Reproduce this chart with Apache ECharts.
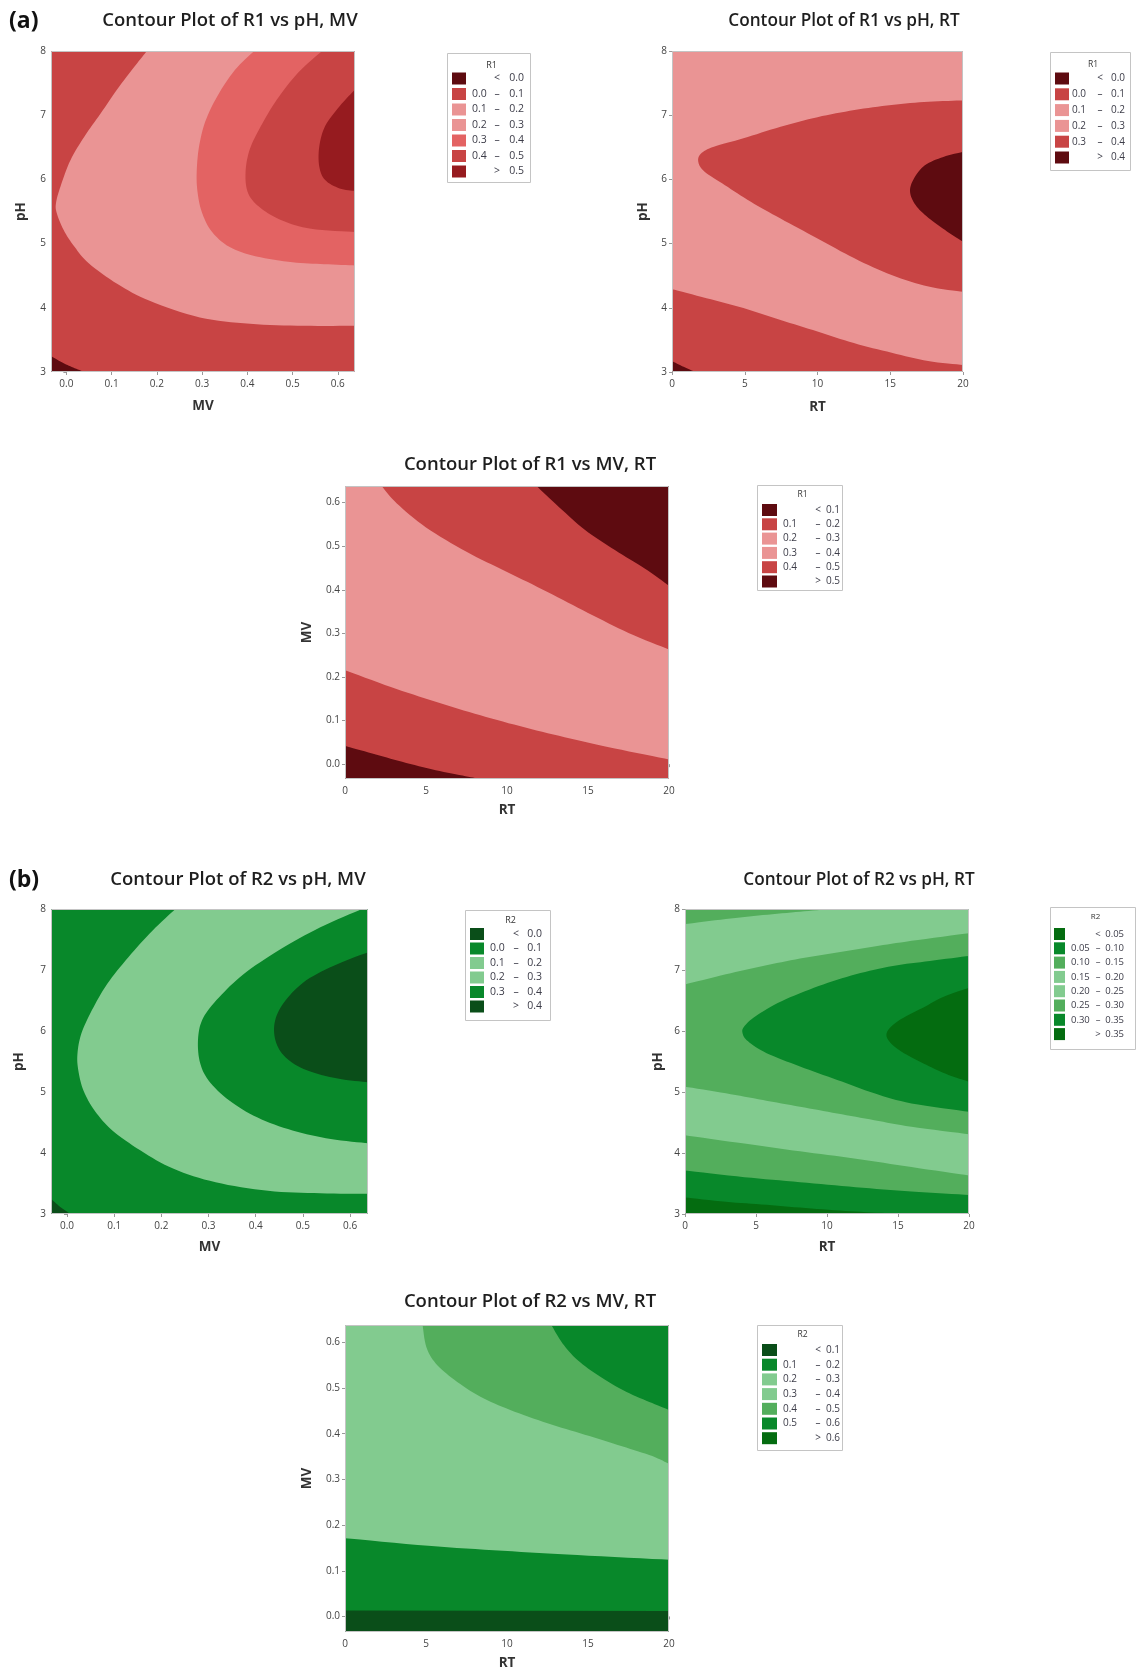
<!DOCTYPE html>
<html><head><meta charset="utf-8">
<script src="https://cdn.jsdelivr.net/npm/echarts@6.0.0/dist/echarts.min.js"></script>
<style>html,body{margin:0;padding:0;background:#fff}#c{width:1137px;height:1672px}</style>
</head><body><div id="c"></div>
<script>
// ---------- axis ranges & ticks ----------
const MV_RANGE = [-0.034, 0.638];
const PH_RANGE = [3, 8];
const RT_RANGE = [0, 20];
const MV_TICKS = [0.0, 0.1, 0.2, 0.3, 0.4, 0.5, 0.6];
const PH_TICKS = [3, 4, 5, 6, 7, 8];
const RT_TICKS = [0, 5, 10, 15, 20];

// ---------- legend levels ----------
const A1_LEVELS = [0.0, 0.1, 0.2, 0.3, 0.4, 0.5];
const A2_LEVELS = [0.0, 0.1, 0.2, 0.3, 0.4];
const A3_LEVELS = [0.1, 0.2, 0.3, 0.4, 0.5];
const B1_LEVELS = [0.0, 0.1, 0.2, 0.3, 0.4];
const B2_LEVELS = [0.05, 0.10, 0.15, 0.20, 0.25, 0.30, 0.35];
const B3_LEVELS = [0.1, 0.2, 0.3, 0.4, 0.5, 0.6];

// ---------- contour boundary curves (data coords) ----------
// A1: R1 vs pH (y), MV (x)
const A1_c0 = [[-0.034,3.25],[-0.01,3.15],[0.015,3.07],[0.04,3.0]];
const A1_c1 = [[0.178,8.0],[0.152,7.77],[0.112,7.40],[0.076,7.03],[0.040,6.67],[0.009,6.30],[-0.013,5.89],[-0.023,5.63],[-0.021,5.47],[-0.006,5.21],[0.018,4.95],[0.050,4.69],[0.113,4.37],[0.184,4.11],[0.295,3.85],[0.406,3.75],[0.525,3.72],[0.638,3.72]];
const A1_c3 = [[0.415,8.0],[0.372,7.70],[0.334,7.30],[0.307,6.90],[0.293,6.50],[0.288,6.10],[0.290,5.80],[0.299,5.50],[0.320,5.20],[0.360,4.95],[0.420,4.80],[0.500,4.71],[0.570,4.68],[0.638,4.66]];
const A1_c4 = [[0.565,8.0],[0.512,7.66],[0.465,7.24],[0.430,6.83],[0.405,6.46],[0.396,6.10],[0.402,5.78],[0.430,5.55],[0.477,5.36],[0.541,5.23],[0.638,5.18]];
const A1_c5 = [[0.638,7.40],[0.604,7.14],[0.572,6.83],[0.559,6.51],[0.559,6.20],[0.572,5.99],[0.604,5.86],[0.638,5.82]];
// A2: R1 vs pH (y), RT (x)
const A2_c0 = [[0,3.17],[0.8,3.08],[1.6,3.0]];
const A2_c1 = [[0,4.29],[2.37,4.15],[4.91,3.995],[7.46,3.81],[10.0,3.63],[12.5,3.45],[15.1,3.30],[17.6,3.17],[20,3.11]];
const A2_c3 = [[20,7.23],[17.63,7.21],[15.09,7.16],[12.54,7.08],[10.0,6.97],[7.46,6.82],[4.91,6.64],[2.88,6.51],[1.98,6.40],[1.81,6.27],[2.24,6.12],[3.64,5.91],[5.42,5.65],[7.46,5.39],[10.0,5.08],[12.54,4.77],[15.09,4.51],[17.63,4.33],[20,4.25]];
const A2_c4 = [[20,6.43],[18.65,6.35],[17.38,6.22],[16.62,6.01],[16.36,5.81],[16.74,5.60],[17.63,5.40],[18.9,5.19],[20,5.03]];
// A3: R1 vs MV (y), RT (x)
const A3_c1 = [[0,0.042],[1.68,0.0245],[3.53,0.0054],[5.6,-0.0138],[7.44,-0.0275],[8.36,-0.034]];
const A3_c2 = [[0,0.2156],[2.83,0.177],[5.6,0.143],[8.36,0.112],[11.13,0.084],[13.9,0.059],[16.66,0.036],[20,0.011]];
const A3_c4 = [[2.26,0.638],[3.2,0.598],[5.0,0.543],[7.5,0.487],[10,0.441],[12.5,0.395],[15,0.347],[17.5,0.301],[20,0.263]];
const A3_c5 = [[11.82,0.638],[13.2,0.590],[14.82,0.537],[16.66,0.491],[18.5,0.449],[20,0.409]];
// B1: R2 vs pH (y), MV (x)
const B1_c0 = [[-0.034,3.25],[-0.015,3.12],[0.007,3.0]];
const B1_c1 = [[0.2296,8.0],[0.181,7.645],[0.130,7.21],[0.085,6.77],[0.052,6.33],[0.030,5.95],[0.022,5.62],[0.024,5.35],[0.035,5.02],[0.059,4.69],[0.096,4.37],[0.156,4.04],[0.226,3.74],[0.315,3.52],[0.426,3.38],[0.537,3.34],[0.638,3.33]];
const B1_c3 = [[0.625,8.0],[0.537,7.70],[0.448,7.32],[0.374,6.93],[0.322,6.55],[0.289,6.22],[0.278,5.90],[0.281,5.51],[0.300,5.19],[0.344,4.86],[0.404,4.58],[0.478,4.37],[0.559,4.23],[0.638,4.16]];
const B1_c4 = [[0.638,7.29],[0.574,7.10],[0.507,6.83],[0.463,6.50],[0.441,6.17],[0.442,5.84],[0.463,5.57],[0.507,5.36],[0.574,5.22],[0.638,5.16]];
// B2: R2 vs pH (y), RT (x)
const B2_c05 = [[0,3.27],[2.88,3.20],[5.75,3.15],[8.89,3.09],[12.03,3.04],[14.64,3.01],[15.95,3.0]];
const B2_c10 = [[0,3.714],[4.18,3.604],[8.1,3.522],[12.03,3.44],[15.95,3.368],[20,3.313]];
const B2_c15lo = [[0,4.29],[4.18,4.154],[8.1,4.027],[12.03,3.907],[15.95,3.769],[20,3.632]];
const B2_c15hi = [[0,7.753],[2.88,7.835],[5.49,7.90],[8.1,7.956],[10.2,8.0]];
const B2_c25lo = [[0,5.088],[2.88,4.978],[5.49,4.868],[8.1,4.758],[10.72,4.648],[13.33,4.538],[15.95,4.429],[20,4.308]];
const B2_c25hi = [[0,6.764],[2.88,6.929],[5.49,7.066],[8.1,7.187],[10.72,7.286],[13.33,7.385],[15.95,7.478],[20,7.604]];
const B2_c30 = [[20,7.231],[17.25,7.148],[14.64,7.066],[12.03,6.929],[9.41,6.736],[6.80,6.489],[4.97,6.242],[4.18,6.077],[4.05,5.967],[4.44,5.83],[5.75,5.637],[8.10,5.418],[10.72,5.198],[13.33,4.978],[15.95,4.813],[20,4.676]];
const B2_c35 = [[20,6.709],[18.3,6.571],[16.73,6.379],[15.16,6.187],[14.25,5.995],[14.38,5.83],[15.42,5.637],[16.99,5.445],[18.56,5.28],[20,5.17]];
// B3: R2 vs MV (y), RT (x)
const B3_c1 = [[0,0.013],[20,0.012]];
const B3_c2 = [[0,0.1714],[5.14,0.1547],[9.75,0.1438],[14.35,0.1343],[20,0.1242]];
const B3_c4 = [[4.79,0.638],[5.02,0.590],[5.60,0.554],[6.75,0.518],[8.36,0.481],[10.2,0.452],[12.5,0.423],[14.8,0.398],[17.1,0.3725],[18.97,0.351],[20,0.334]];
const B3_c5 = [[12.74,0.638],[13.43,0.5977],[14.35,0.5614],[15.74,0.525],[17.35,0.492],[18.96,0.467],[20,0.452]];

// ---------- colours ----------
const RED_DARK = '#5E0B10', RED = '#C84444', PINK = '#EA9494', RED_LIGHT = '#E36363', RED_DEEP = '#961B1F';
const G_DARK = '#0A4E19', G = '#08882A', G_LIGHT = '#82CB8F', G_MID = '#53AE5C', G_DEEP = '#046C10';

const A1_COLORS = [RED_DARK, RED, PINK, PINK, RED_LIGHT, RED, RED_DEEP];
const A2_COLORS = [RED_DARK, RED, PINK, PINK, RED, RED_DARK];
const A3_COLORS = [RED_DARK, RED, PINK, PINK, RED, RED_DARK];
const B1_COLORS = [G_DARK, G, G_LIGHT, G_LIGHT, G, G_DARK];
const B2_COLORS = [G_DEEP, G, G_MID, G_LIGHT, G_LIGHT, G_MID, G, G_DEEP];
const B3_COLORS = [G_DARK, G, G_LIGHT, G_LIGHT, G_MID, G, G_DEEP];

const FULL = ['BL','BR','TR','TL'];

const PLOTS = [
  { title:'Contour Plot of R1 vs pH, MV', tpos:[230,21], tfs:18.5, grid:[51,51,304,321], xn:'MV', yn:'pH',
    xr:MV_RANGE, yr:PH_RANGE, xt:MV_TICKS, yt:PH_TICKS, xd:1, yd:0, xg:27, yg:23,
    layers:[ {parts:FULL, color:RED_DARK},
      {parts:[{c:A1_c0},'BR','TR','TL'], color:RED},
      {parts:[{c:A1_c1},'TR'], color:PINK},
      {parts:[{c:A1_c3},'TR'], color:RED_LIGHT},
      {parts:[{c:A1_c4},'TR'], color:RED},
      {parts:[{c:A1_c5}], color:RED_DEEP} ],
    legend:{title:'R1', levels:A1_LEVELS, colors:A1_COLORS, dec:1, box:[447,53,530,182], ty:65, r0:78.5, step:15.5, sw:452, swW:14, lo:472, sym:497, hi:524, fs:10.5} },
  { title:'Contour Plot of R1 vs pH, RT', tpos:[844,21], tfs:17.2, grid:[672,51,291,321], xn:'RT', yn:'pH',
    xr:RT_RANGE, yr:PH_RANGE, xt:RT_TICKS, yt:PH_TICKS, xd:0, yd:0, xg:28, yg:22,
    layers:[ {parts:FULL, color:RED_DARK},
      {parts:[{c:A2_c0},'BR','TR','TL'], color:RED},
      {parts:[{c:A2_c1},'TR','TL'], color:PINK},
      {parts:[{c:A2_c3}], color:RED},
      {parts:[{c:A2_c4}], color:RED_DARK} ],
    legend:{title:'R1', levels:A2_LEVELS, colors:A2_COLORS, dec:1, box:[1050,52,1130,170], ty:65, r0:78.5, step:15.8, sw:1055, swW:14, lo:1072, sym:1100, hi:1125, fs:10} },
  { title:'Contour Plot of R1 vs MV, RT', tpos:[530,465], tfs:18.5, grid:[345,486,324,293], xn:'RT', yn:'MV',
    xr:RT_RANGE, yr:MV_RANGE, xt:RT_TICKS, yt:MV_TICKS, xd:0, yd:1, xg:24, yg:31,
    layers:[ {parts:FULL, color:RED_DARK},
      {parts:[{c:A3_c1},'BR','TR','TL'], color:RED},
      {parts:[{c:A3_c2},'TR','TL'], color:PINK},
      {parts:[{c:A3_c4},'TR'], color:RED},
      {parts:[{c:A3_c5},'TR'], color:RED_DARK} ],
    legend:{title:'R1', levels:A3_LEVELS, colors:A3_COLORS, dec:1, box:[757,485,842,590], ty:495, r0:510, step:14.3, sw:762, swW:15, lo:783, sym:818, hi:840, fs:10} },
  { title:'Contour Plot of R2 vs pH, MV', tpos:[238,880], tfs:18.5, grid:[51,909,317,305], xn:'MV', yn:'pH',
    xr:MV_RANGE, yr:PH_RANGE, xt:MV_TICKS, yt:PH_TICKS, xd:1, yd:0, xg:26, yg:25,
    layers:[ {parts:FULL, color:G_DARK},
      {parts:[{c:B1_c0},'BR','TR','TL'], color:G},
      {parts:[{c:B1_c1},'TR'], color:G_LIGHT},
      {parts:[{c:B1_c3},'TR'], color:G},
      {parts:[{c:B1_c4}], color:G_DARK} ],
    legend:{title:'R2', levels:B1_LEVELS, colors:B1_COLORS, dec:1, box:[465,910,550,1020], ty:920, r0:934, step:14.5, sw:470, swW:14, lo:490, sym:516, hi:542, fs:10.5} },
  { title:'Contour Plot of R2 vs pH, RT', tpos:[859,880], tfs:17.2, grid:[685,909,284,305], xn:'RT', yn:'pH',
    xr:RT_RANGE, yr:PH_RANGE, xt:RT_TICKS, yt:PH_TICKS, xd:0, yd:0, xg:26, yg:20,
    layers:[ {parts:FULL, color:G_DEEP},
      {parts:[{c:B2_c05},'BR','TR','TL'], color:G},
      {parts:[{c:B2_c10},'TR','TL'], color:G_MID},
      {parts:[{c:B2_c15lo},'TR',{c:B2_c15hi, rev:true}], color:G_LIGHT},
      {parts:[{c:B2_c25lo},{c:B2_c25hi, rev:true}], color:G_MID},
      {parts:[{c:B2_c30}], color:G},
      {parts:[{c:B2_c35}], color:G_DEEP} ],
    legend:{title:'R2', levels:B2_LEVELS, colors:B2_COLORS, dec:2, box:[1050,907,1135,1049], ty:917, r0:934, step:14.3, sw:1054, swW:11, lo:1071, sym:1098, hi:1124, fs:9.5} },
  { title:'Contour Plot of R2 vs MV, RT', tpos:[530,1302], tfs:18.5, grid:[345,1325,324,307], xn:'RT', yn:'MV',
    xr:RT_RANGE, yr:MV_RANGE, xt:RT_TICKS, yt:MV_TICKS, xd:0, yd:1, xg:24, yg:31,
    layers:[ {parts:FULL, color:G_DARK},
      {parts:[{c:B3_c1},'TR','TL'], color:G},
      {parts:[{c:B3_c2},'TR','TL'], color:G_LIGHT},
      {parts:[{c:B3_c4},'TR'], color:G_MID},
      {parts:[{c:B3_c5},'TR'], color:G} ],
    legend:{title:'R2', levels:B3_LEVELS, colors:B3_COLORS, dec:1, box:[757,1325,842,1450], ty:1335, r0:1350, step:14.7, sw:762, swW:15, lo:783, sym:818, hi:840, fs:10} }
];

// ---------- helpers ----------
function smooth(pts) {
  const n = pts.length;
  if (n < 3) return pts;
  const out = [];
  const S = 8;
  for (let i = 0; i < n - 1; i++) {
    const p0 = pts[Math.max(i - 1, 0)], p1 = pts[i], p2 = pts[i + 1], p3 = pts[Math.min(i + 2, n - 1)];
    for (let k = 0; k < S; k++) {
      const t = k / S, t2 = t * t, t3 = t2 * t;
      const f = j => 0.5 * (2 * p1[j] + (-p0[j] + p2[j]) * t + (2 * p0[j] - 5 * p1[j] + 4 * p2[j] - p3[j]) * t2 + (-p0[j] + 3 * p1[j] - 3 * p2[j] + p3[j]) * t3);
      out.push([f(0), f(1)]);
    }
  }
  out.push(pts[n - 1]);
  return out;
}

function makeRender(plot) {
  return function (params, api) {
    const layer = plot.layers[params.dataIndex];
    const [x0, x1] = plot.xr, [y0, y1] = plot.yr;
    const corner = {BL:[x0,y0], BR:[x1,y0], TR:[x1,y1], TL:[x0,y1]};
    let pts = [];
    layer.parts.forEach(p => {
      if (typeof p === 'string') { pts.push(api.coord(corner[p])); return; }
      let c = p.c.slice();
      if (p.rev) c.reverse();
      pts = pts.concat(smooth(c.map(v => api.coord(v))));
    });
    return { type:'polygon', shape:{ points: pts }, style:{ fill: layer.color, stroke: null } };
  };
}

const FONT = '"Open Sans", "Noto Sans", sans-serif';
const grids = [], xAxes = [], yAxes = [], series = [], graphics = [];

PLOTS.forEach((p, i) => {
  const [L, T, W, H] = p.grid;
  grids.push({ left:L, top:T, width:W, height:H, containLabel:false, show:false });
  const lbl = d => v => v.toFixed(d);
  xAxes.push({ gridIndex:i, type:'value', min:p.xr[0], max:p.xr[1],
    axisLine:{show:false}, splitLine:{show:false},
    axisTick:{show:true, length:3, lineStyle:{color:'#999'}, customValues:p.xt},
    axisLabel:{customValues:p.xt, formatter:lbl(p.xd), fontSize:10, color:'#444', margin:7, fontFamily:FONT},
    name:p.xn, nameLocation:'middle', nameGap:p.xg,
    nameTextStyle:{fontSize:13.5, fontWeight:'bold', color:'#333', fontFamily:FONT} });
  yAxes.push({ gridIndex:i, type:'value', min:p.yr[0], max:p.yr[1],
    axisLine:{show:false}, splitLine:{show:false},
    axisTick:{show:true, length:3, lineStyle:{color:'#999'}, customValues:p.yt},
    axisLabel:{customValues:p.yt, formatter:lbl(p.yd), fontSize:10, color:'#444', margin:5, fontFamily:FONT},
    name:p.yn, nameLocation:'middle', nameGap:p.yg, nameRotate:90,
    nameTextStyle:{fontSize:13.5, fontWeight:'bold', color:'#333', fontFamily:FONT} });
  series.push({ type:'custom', xAxisIndex:i, yAxisIndex:i, clip:true, silent:true,
    renderItem: makeRender(p), data: p.layers.map(() => [p.xr[0], p.yr[0]]) });

  // plot border
  graphics.push({ type:'rect', z:100, silent:true, shape:{x:L+0.5, y:T+0.5, width:W-1, height:H-1},
    style:{fill:'none', stroke:'#c4c4c4', lineWidth:1} });
  // title
  graphics.push({ type:'text', z:100, x:p.tpos[0], y:p.tpos[1],
    style:{ text:p.title, font:'600 ' + p.tfs + 'px ' + FONT, fill:'#1e1e1e', textAlign:'center', textVerticalAlign:'middle', align:'center', verticalAlign:'middle' } });

  // legend
  const lg = p.legend;
  const [bl, bt, br, bb] = lg.box;
  graphics.push({ type:'rect', z:100, shape:{x:bl+0.5, y:bt+0.5, width:br-bl, height:bb-bt},
    style:{fill:'#fff', stroke:'#c4c4c4', lineWidth:1} });
  graphics.push({ type:'text', z:101, x:(bl+br)/2 + 3, y:lg.ty,
    style:{ text:lg.title, font:(lg.fs-1.5)+'px ' + FONT, fill:'#333', textAlign:'center', textVerticalAlign:'middle', align:'center', verticalAlign:'middle' } });
  const n = lg.levels.length;
  const rows = [];
  rows.push(['', '<', lg.levels[0].toFixed(lg.dec)]);
  for (let k = 0; k < n - 1; k++) rows.push([lg.levels[k].toFixed(lg.dec), '\u2013', lg.levels[k+1].toFixed(lg.dec)]);
  rows.push(['', '>', lg.levels[n-1].toFixed(lg.dec)]);
  rows.forEach((r, k) => {
    const cy = lg.r0 + k * lg.step;
    graphics.push({ type:'rect', z:101, shape:{x:lg.sw, y:cy - 6, width:lg.swW, height:12}, style:{fill:lg.colors[k]} });
    const f = lg.fs + 'px ' + FONT;
    if (r[0]) graphics.push({ type:'text', z:101, x:lg.lo, y:cy, style:{text:r[0], font:f, fill:'#3c3c48', textAlign:'left', textVerticalAlign:'middle', align:'left', verticalAlign:'middle'} });
    graphics.push({ type:'text', z:101, x:lg.sym, y:cy, style:{text:r[1], font:f, fill:'#3c3c48', textAlign:'center', textVerticalAlign:'middle', align:'center', verticalAlign:'middle'} });
    graphics.push({ type:'text', z:101, x:lg.hi, y:cy, style:{text:r[2], font:f, fill:'#3c3c48', textAlign:'right', textVerticalAlign:'middle', align:'right', verticalAlign:'middle'} });
  });
});

graphics.push({ type:'text', z:100, x:9, y:21, style:{ text:'(a)', font:'bold 23px ' + FONT, fill:'#111', textAlign:'left', textVerticalAlign:'middle', align:'left', verticalAlign:'middle' } });
graphics.push({ type:'text', z:100, x:9, y:880, style:{ text:'(b)', font:'bold 23px ' + FONT, fill:'#111', textAlign:'left', textVerticalAlign:'middle', align:'left', verticalAlign:'middle' } });

const chart = echarts.init(document.getElementById('c'), null, {renderer:'canvas'});
chart.setOption({
  animation:false,
  backgroundColor:'#fff',
  grid:grids, xAxis:xAxes, yAxis:yAxes, series:series, graphic:graphics
});
</script></body></html>
